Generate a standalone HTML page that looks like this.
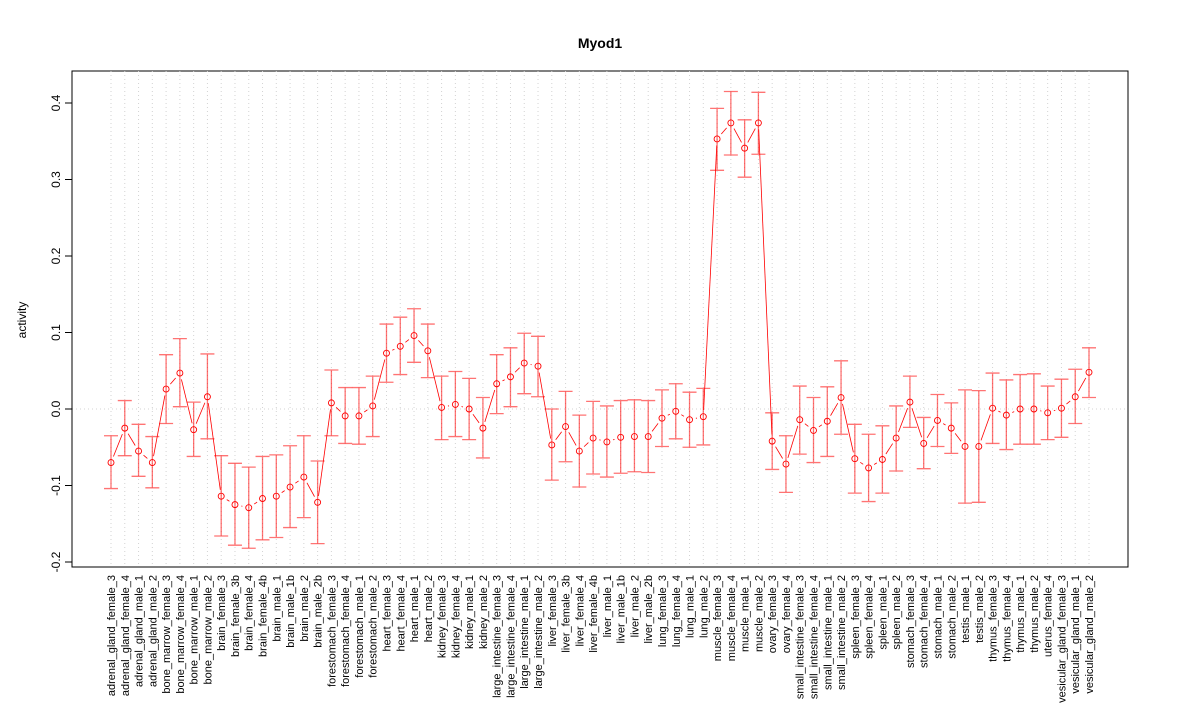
<!DOCTYPE html>
<html><head><meta charset="utf-8"><style>
body{margin:0;background:#fff;}
svg text{font-family:"Liberation Sans",Arial,sans-serif;}
</style></head><body>
<svg id="chart" width="1200" height="720" xmlns="http://www.w3.org/2000/svg">
<text x="600" y="48" text-anchor="middle" font-size="14" font-weight="bold">Myod1</text>
<rect x="72" y="71" width="1056" height="496" fill="none" stroke="#000" stroke-width="1"/>
<text transform="translate(26,320) rotate(-90)" text-anchor="middle" font-size="12">activity</text>
<g id="grid"></g><g id="axes"></g><g id="marks"></g>
</svg>
<script>
const categories=["adrenal_gland_female_3","adrenal_gland_female_4","adrenal_gland_male_1","adrenal_gland_male_2","bone_marrow_female_3","bone_marrow_female_4","bone_marrow_male_1","bone_marrow_male_2","brain_female_3","brain_female_3b","brain_female_4","brain_female_4b","brain_male_1","brain_male_1b","brain_male_2","brain_male_2b","forestomach_female_3","forestomach_female_4","forestomach_male_1","forestomach_male_2","heart_female_3","heart_female_4","heart_male_1","heart_male_2","kidney_female_3","kidney_female_4","kidney_male_1","kidney_male_2","large_intestine_female_3","large_intestine_female_4","large_intestine_male_1","large_intestine_male_2","liver_female_3","liver_female_3b","liver_female_4","liver_female_4b","liver_male_1","liver_male_1b","liver_male_2","liver_male_2b","lung_female_3","lung_female_4","lung_male_1","lung_male_2","muscle_female_3","muscle_female_4","muscle_male_1","muscle_male_2","ovary_female_3","ovary_female_4","small_intestine_female_3","small_intestine_female_4","small_intestine_male_1","small_intestine_male_2","spleen_female_3","spleen_female_4","spleen_male_1","spleen_male_2","stomach_female_3","stomach_female_4","stomach_male_1","stomach_male_2","testis_male_1","testis_male_2","thymus_female_3","thymus_female_4","thymus_male_1","thymus_male_2","uterus_female_4","vesicular_gland_female_3","vesicular_gland_male_1","vesicular_gland_male_2"];
const values=[-0.070,-0.025,-0.055,-0.070,0.026,0.047,-0.027,0.016,-0.114,-0.125,-0.129,-0.117,-0.114,-0.102,-0.089,-0.122,0.008,-0.009,-0.009,0.004,0.073,0.082,0.096,0.076,0.002,0.006,0.000,-0.025,0.033,0.042,0.060,0.056,-0.047,-0.023,-0.055,-0.038,-0.043,-0.037,-0.036,-0.036,-0.012,-0.003,-0.014,-0.010,0.353,0.374,0.341,0.374,-0.042,-0.072,-0.014,-0.028,-0.016,0.015,-0.065,-0.077,-0.066,-0.038,0.009,-0.045,-0.015,-0.025,-0.049,-0.049,0.001,-0.008,0.000,0.000,-0.005,0.001,0.016,0.048];
const upper=[-0.035,0.011,-0.020,-0.036,0.071,0.092,0.009,0.072,-0.061,-0.071,-0.076,-0.062,-0.060,-0.048,-0.035,-0.068,0.051,0.028,0.028,0.043,0.111,0.120,0.131,0.111,0.043,0.049,0.040,0.015,0.071,0.080,0.099,0.095,0.000,0.023,-0.008,0.010,0.004,0.011,0.012,0.011,0.025,0.033,0.022,0.027,0.393,0.415,0.378,0.414,-0.005,-0.035,0.030,0.015,0.029,0.063,-0.020,-0.033,-0.022,0.004,0.043,-0.011,0.019,0.008,0.025,0.024,0.047,0.038,0.045,0.046,0.030,0.039,0.052,0.080];
const lower=[-0.104,-0.061,-0.088,-0.103,-0.019,0.003,-0.062,-0.039,-0.166,-0.178,-0.182,-0.171,-0.168,-0.155,-0.142,-0.176,-0.035,-0.045,-0.046,-0.036,0.035,0.045,0.061,0.041,-0.040,-0.036,-0.040,-0.064,-0.006,0.003,0.020,0.016,-0.093,-0.069,-0.102,-0.085,-0.089,-0.084,-0.082,-0.083,-0.049,-0.039,-0.050,-0.047,0.312,0.332,0.303,0.333,-0.079,-0.109,-0.059,-0.070,-0.062,-0.033,-0.110,-0.121,-0.110,-0.081,-0.024,-0.078,-0.049,-0.058,-0.123,-0.122,-0.045,-0.053,-0.046,-0.046,-0.040,-0.037,-0.019,0.015];
const yTicks=[-0.2,-0.1,0.0,0.1,0.2,0.3,0.4];
const yTickLabels=["-0.2","-0.1","0.0","0.1","0.2","0.3","0.4"];

const NS="http://www.w3.org/2000/svg";
const xS=i=>111+i*(1089-111)/(categories.length-1);
const yS=v=>409-v*765;
function mk(parent,tag,attrs){const e=document.createElementNS(NS,tag);for(const k in attrs)e.setAttribute(k,attrs[k]);document.getElementById(parent).appendChild(e);return e;}
categories.forEach((c,i)=>{
 const g=mk('grid','line',{x1:xS(i),x2:xS(i),y1:71,y2:567,stroke:'#d3d3d3','stroke-dasharray':'1,3'});
 
 
 const t=mk('axes','text',{transform:`translate(${xS(i)+4},575) rotate(-90)`,'text-anchor':'end','font-size':'11'});
 t.textContent=c;
 
 
});
const zl=mk('grid','line',{x1:72,x2:1128,y1:yS(0),y2:yS(0),stroke:'#d3d3d3','stroke-dasharray':'1,3'});


yTicks.forEach((v,i)=>{
 const tk=mk('axes','line',{x1:65,x2:72,y1:yS(v),y2:yS(v),stroke:'#000'});
 
 
 const t=mk('axes','text',{transform:`translate(60,${yS(v)}) rotate(-90)`,'text-anchor':'middle','font-size':'12'});
 t.textContent=yTickLabels[i];
 
 
});
const yl=mk('axes','line',{x1:72,x2:72,y1:yS(-0.2),y2:yS(0.4),stroke:'#000'});


for(let i=0;i<values.length-1;i++){
 const x1=xS(i),y1=yS(values[i]),x2=xS(i+1),y2=yS(values[i+1]);
 const d=Math.hypot(x2-x1,y2-y1);if(d<14)continue;
 const ux=(x2-x1)/d,uy=(y2-y1)/d;
 const l=mk('marks','line',{x1:x1+ux*6.5,y1:y1+uy*6.5,x2:x2-ux*6.5,y2:y2-uy*6.5,stroke:'#ff0000','stroke-width':0.8});
 
 
}
values.forEach((v,i)=>{
 const x=xS(i);
 const e=mk('marks','path',{d:`M${x},${yS(upper[i])}V${yS(lower[i])}M${x-7},${yS(upper[i])}H${x+7}M${x-7},${yS(lower[i])}H${x+7}`,stroke:'#ff0000','stroke-opacity':0.55,fill:'none','stroke-width':1.3});
 
 
 const c=mk('marks','circle',{cx:x,cy:yS(v),r:3,fill:'none',stroke:'#ff0000','stroke-width':0.9});
 
 
});
</script>
</body></html>
